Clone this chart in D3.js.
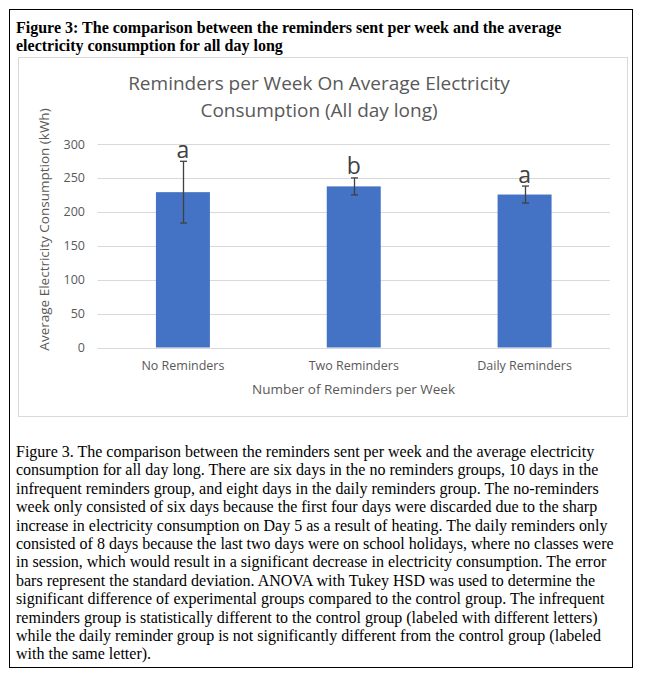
<!DOCTYPE html>
<html>
<head>
<meta charset="utf-8">
<script src="https://cdn.jsdelivr.net/npm/d3@7"></script>
<style>
  html, body { margin: 0; padding: 0; background: #fff; }
  svg { display: block; }
</style>
</head>
<body>
<svg id="chart" width="646" height="678"></svg>
<script>
// ---- data ----
const categories = ["No Reminders", "Two Reminders", "Daily Reminders"];
const means = [229, 237.5, 225.5];
const sds = [45.5, 12.5, 12.5];
const letters = ["a", "b", "a"];
const yTicks = [0, 50, 100, 150, 200, 250, 300];

const headerLines = [
  "Figure 3: The comparison between the reminders sent per week and the average",
  "electricity consumption for all day long"
];
const chartTitleLines = [
  "Reminders per Week On Average Electricity",
  "Consumption (All day long)"
];
const yTitle = "Average Electricity Consumption (kWh)";
const xTitle = "Number of Reminders per Week";
const captionLines = [
  "Figure 3. The comparison between the reminders sent per week and the average electricity",
  "consumption for all day long. There are six days in the no reminders groups, 10 days in the",
  "infrequent reminders group, and eight days in the daily reminders group. The no-reminders",
  "week only consisted of six days because the first four days were discarded due to the sharp",
  "increase in electricity consumption on Day 5 as a result of heating. The daily reminders only",
  "consisted of 8 days because the last two days were on school holidays, where no classes were",
  "in session, which would result in a significant decrease in electricity consumption. The error",
  "bars represent the standard deviation. ANOVA with Tukey HSD was used to determine the",
  "significant difference of experimental groups compared to the control group. The infrequent",
  "reminders group is statistically different to the control group (labeled with different letters)",
  "while the daily reminder group is not significantly different from the control group (labeled",
  "with the same letter)."
];

// ---- layout ----
const svg = d3.select("#chart");
const sans = "'Open Sans', 'Noto Sans', sans-serif";
const serif = "'Liberation Serif', 'Times New Roman', serif";
const grey = "#595959";

// outer frame
svg.append("rect").attr("x", 9.5).attr("y", 9.5).attr("width", 623).attr("height", 658)
  .attr("fill", "#fff").attr("stroke", "#000").attr("stroke-width", 1);

// header
svg.append("g").selectAll("text").data(headerLines).join("text")
  .attr("x", 16).attr("y", (d, i) => 33 + i * 17.5)
  .attr("font-family", serif).attr("font-weight", "bold").attr("font-size", 16)
  .attr("fill", "#000").text(d => d);

// chart area frame
svg.append("rect").attr("x", 18.5).attr("y", 57.5).attr("width", 609).attr("height", 359)
  .attr("fill", "#fff").attr("stroke", "#d9d9d9").attr("stroke-width", 1);

// chart title
svg.append("g").selectAll("text").data(chartTitleLines).join("text")
  .attr("x", 319).attr("y", (d, i) => 90 + i * 26.5)
  .attr("text-anchor", "middle")
  .attr("font-family", sans).attr("font-size", 19)
  .attr("fill", grey).text(d => d);

// scales
const x = d3.scaleBand().domain(categories).range([97.5, 610])
  .paddingInner(0.684).paddingOuter(0.342);
const y = d3.scaleLinear().domain([0, 300]).range([347.5, 144]);

// gridlines
svg.append("g").selectAll("line").data(yTicks).join("line")
  .attr("x1", 97.5).attr("x2", 610)
  .attr("y1", d => Math.round(y(d)) + 0.5).attr("y2", d => Math.round(y(d)) + 0.5)
  .attr("stroke", "#d9d9d9").attr("stroke-width", 1);

// y axis labels
const yAxis = d3.axisLeft(y).tickValues(yTicks).tickSize(0).tickPadding(0);
const yg = svg.append("g").attr("transform", "translate(85,0)").call(yAxis);
yg.select(".domain").remove();
yg.selectAll("text").attr("font-family", sans).attr("font-size", 12.5).attr("fill", grey);

// x axis labels
const xAxis = d3.axisBottom(x).tickSize(0).tickPadding(0);
const xg = svg.append("g").attr("transform", "translate(0,361)").call(xAxis);
xg.select(".domain").remove();
xg.selectAll("text").attr("font-family", sans).attr("font-size", 12.5).attr("fill", grey);

// bars
const data = categories.map((c, i) => ({ c, m: means[i], s: sds[i], l: letters[i] }));
svg.append("g").selectAll("rect").data(data).join("rect")
  .attr("x", d => x(d.c)).attr("width", x.bandwidth())
  .attr("y", d => y(d.m)).attr("height", d => y(0) - y(d.m))
  .attr("fill", "#4472C4");

// error bars
const eb = svg.append("g").attr("stroke", "#404040").attr("stroke-width", 1.3);
data.forEach(d => {
  const cx = Math.round(x(d.c) + x.bandwidth() / 2) + 0.5;
  eb.append("line").attr("x1", cx).attr("x2", cx).attr("y1", y(d.m + d.s)).attr("y2", y(d.m - d.s));
  eb.append("line").attr("x1", cx - 3.5).attr("x2", cx + 3.5).attr("y1", y(d.m + d.s)).attr("y2", y(d.m + d.s));
  eb.append("line").attr("x1", cx - 3.5).attr("x2", cx + 3.5).attr("y1", y(d.m - d.s)).attr("y2", y(d.m - d.s));
});

// significance letters
svg.append("g").selectAll("text").data(data).join("text")
  .attr("x", d => x(d.c) + x.bandwidth() / 2)
  .attr("y", d => y(d.m + d.s) - 3.5)
  .attr("text-anchor", "middle")
  .attr("font-family", sans).attr("font-size", 23)
  .attr("fill", "#404040").text(d => d.l);

// y title
svg.append("text")
  .attr("transform", "translate(49,229.5) rotate(-90)")
  .attr("text-anchor", "middle")
  .attr("font-family", sans).attr("font-size", 13.5)
  .attr("fill", grey).text(yTitle);

// x title
svg.append("text")
  .attr("x", 353.5).attr("y", 394)
  .attr("text-anchor", "middle")
  .attr("font-family", sans).attr("font-size", 13.5)
  .attr("fill", grey).text(xTitle);

// caption
svg.append("g").selectAll("text").data(captionLines).join("text")
  .attr("x", 16).attr("y", (d, i) => 457 + i * 18.4)
  .attr("font-family", serif).attr("font-size", 16)
  .attr("fill", "#000").text(d => d);
</script>
</body>
</html>
